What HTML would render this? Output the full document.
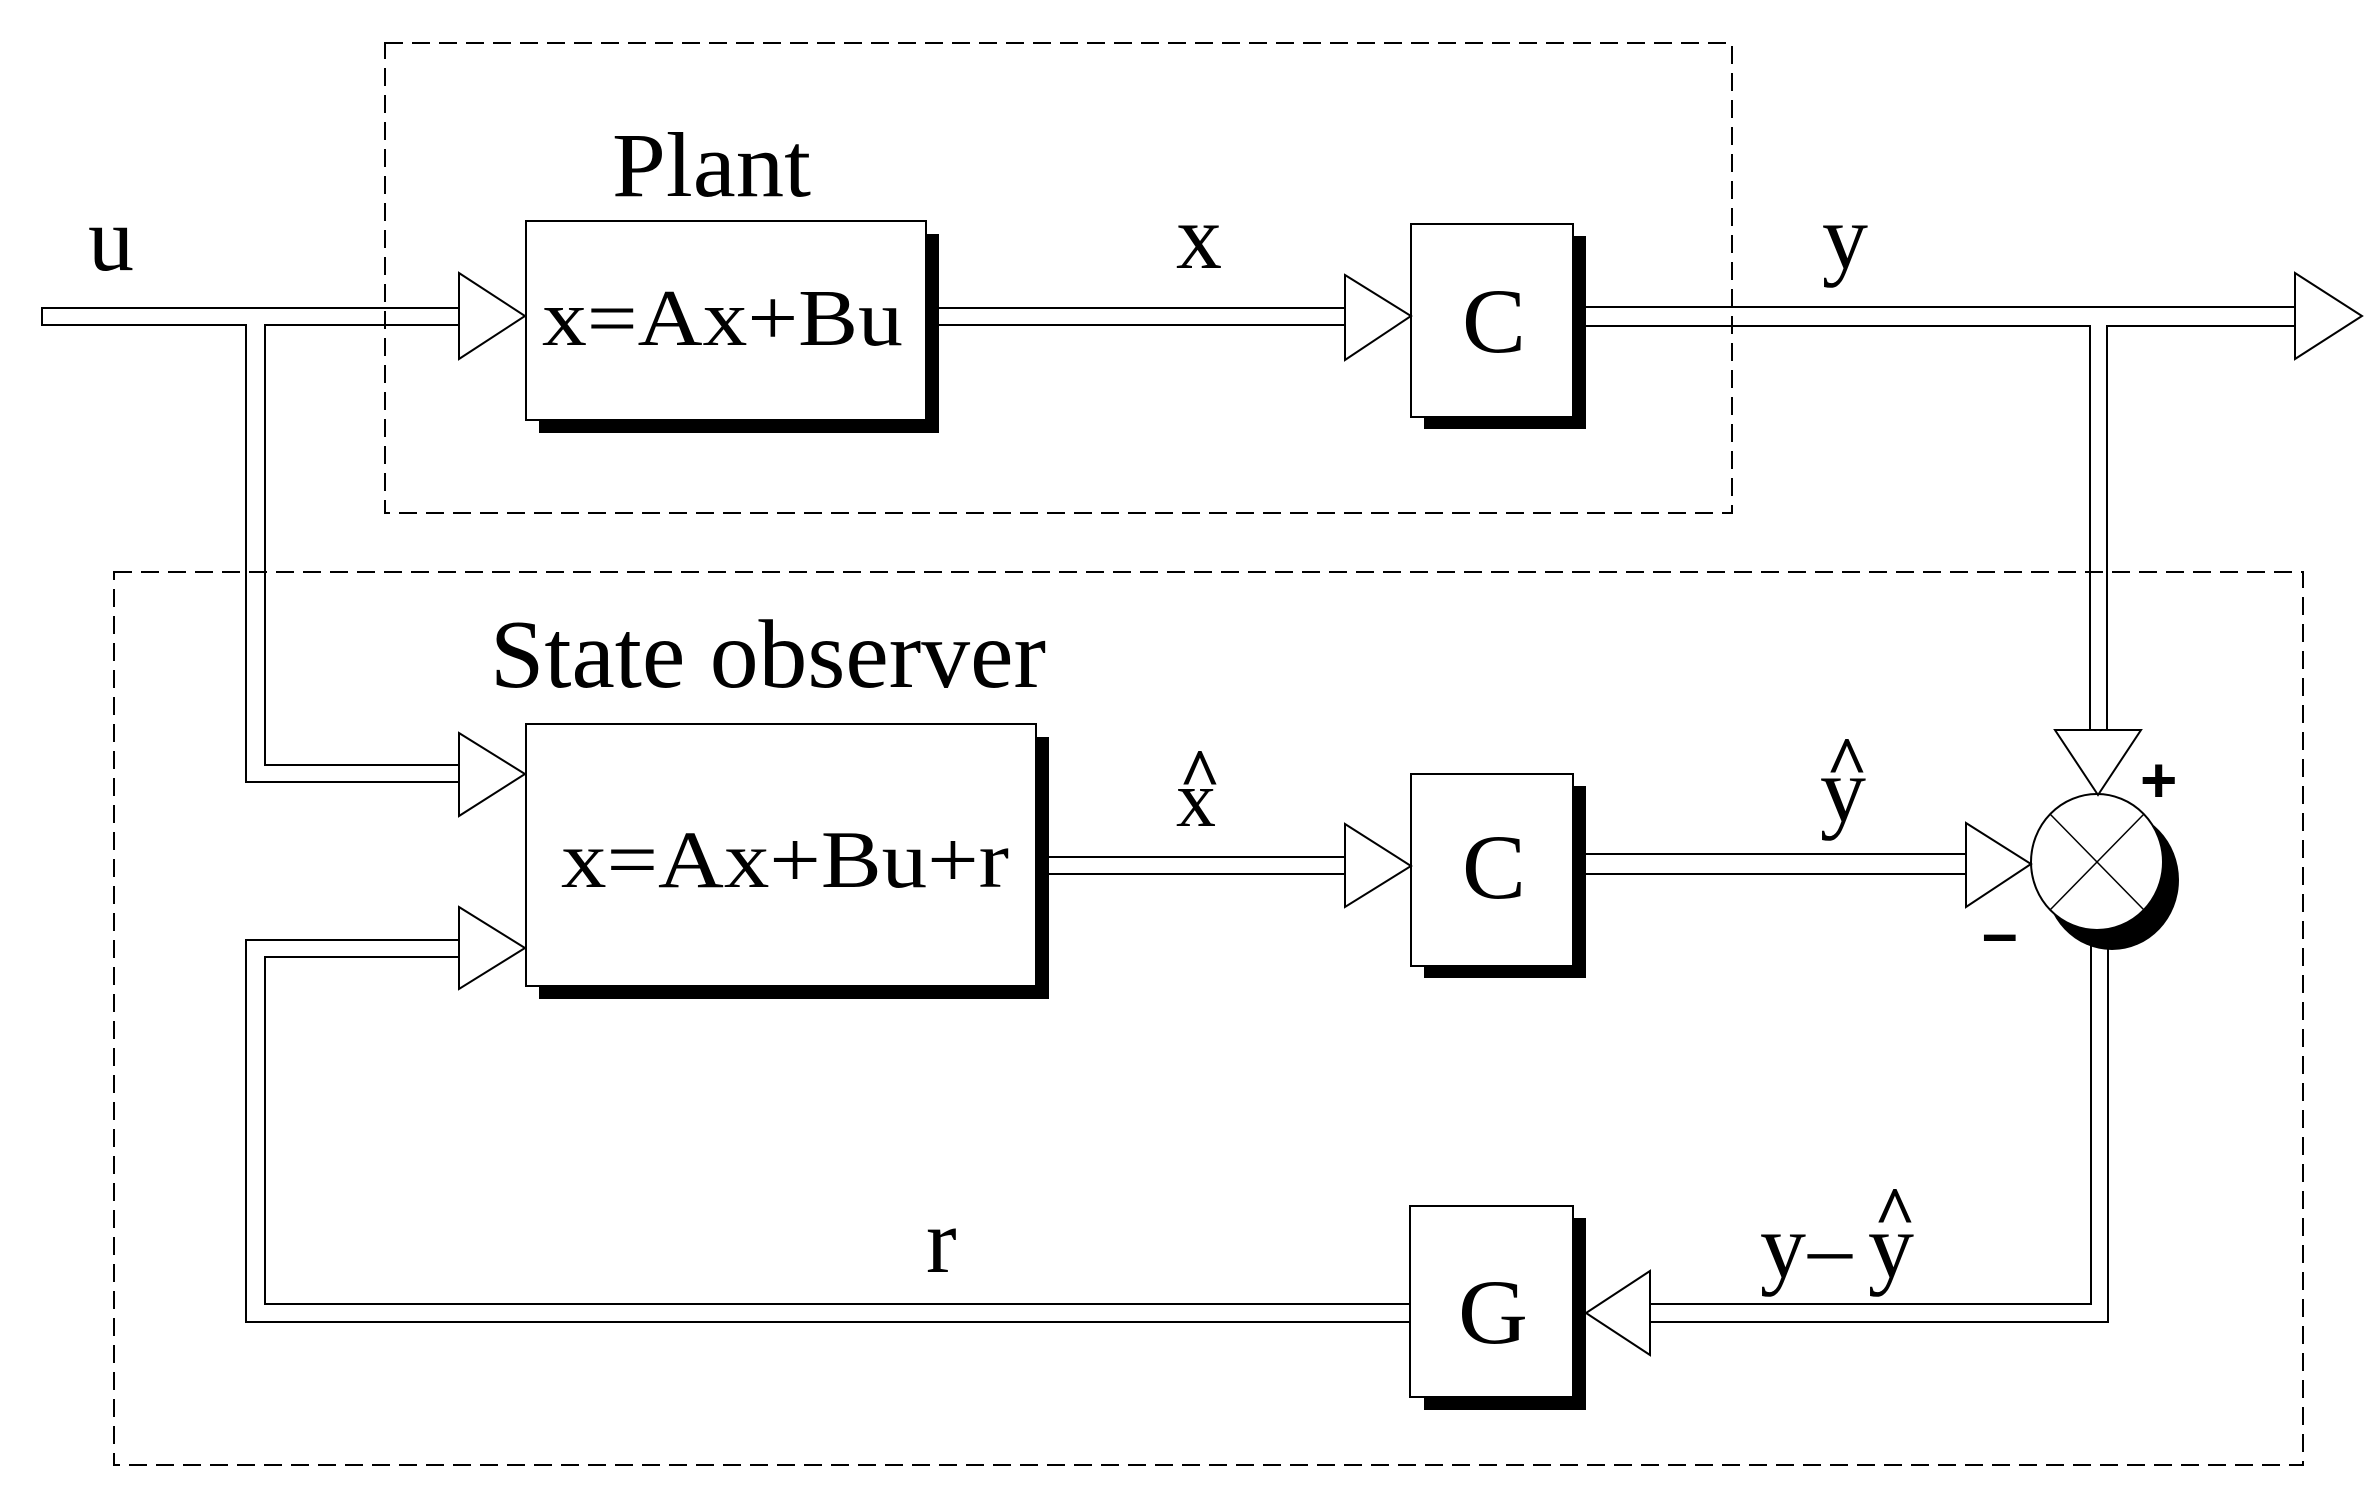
<!DOCTYPE html>
<html><head><style>html,body{margin:0;padding:0;background:#fff}svg{display:block}</style></head>
<body>
<svg width="2379" height="1501" viewBox="0 0 2379 1501" xmlns="http://www.w3.org/2000/svg" font-family="'Liberation Serif', serif">
<rect width="2379" height="1501" fill="#fff"/>
<g fill="none" stroke="#000" stroke-width="2" stroke-dasharray="18 9">
<rect x="385" y="43" width="1347" height="470"/>
<rect x="114" y="572" width="2189" height="893"/>
</g>
<g fill="none" stroke="#000" stroke-width="2">
<polyline points="462,308 42,308 42,325 246,325 246,782 462,782"/>
<polyline points="462,325 265,325 265,765 462,765"/>
<polyline points="462,940 246,940 246,1322 1412,1322"/>
<polyline points="462,957 265,957 265,1304 1412,1304"/>
<line x1="939" y1="308" x2="1345" y2="308"/><line x1="939" y1="325" x2="1345" y2="325"/>
<line x1="1586" y1="307" x2="2296" y2="307"/>
<polyline points="1586,326 2090,326 2090,732"/>
<polyline points="2296,326 2107,326 2107,732"/>
<line x1="1049" y1="857" x2="1345" y2="857"/><line x1="1049" y1="874" x2="1345" y2="874"/>
<line x1="1586" y1="854" x2="1967" y2="854"/><line x1="1586" y1="874" x2="1967" y2="874"/>
<polyline points="2091,928 2091,1304 1650,1304"/>
<polyline points="2108,940 2108,1322 1650,1322"/>
</g>
<g fill="#000">
<rect x="539" y="234" width="400" height="199"/>
<rect x="539" y="737" width="510" height="262"/>
<rect x="1424" y="236" width="162" height="193"/>
<rect x="1424" y="786" width="162" height="192"/>
<rect x="1424" y="1218" width="162" height="192"/>
<ellipse cx="2112" cy="880" rx="67" ry="70"/>
</g>
<g fill="#fff" stroke="#000" stroke-width="2">
<rect x="526" y="221" width="400" height="199"/>
<rect x="526" y="724" width="510" height="262"/>
<rect x="1411" y="224" width="162" height="193"/>
<rect x="1411" y="774" width="162" height="192"/>
<rect x="1410" y="1206" width="163" height="191"/>
<ellipse cx="2097" cy="862" rx="66" ry="68"/>
<polygon points="459,273 525,316 459,359"/>
<polygon points="459,733 525,774 459,816"/>
<polygon points="459,907 525,948 459,989"/>
<polygon points="1345,275 1411,316 1345,360"/>
<polygon points="1345,824 1411,866 1345,907"/>
<polygon points="1966,823 2031,864 1966,907"/>
<polygon points="2295,273 2362,316 2295,359"/>
<polygon points="2055,730 2141,730 2098,795"/>
<polygon points="1650,1271 1586,1313 1650,1355"/>
</g>
<g stroke="#000" stroke-width="1.5">
<line x1="2050" y1="814" x2="2144" y2="910"/>
<line x1="2144" y1="814" x2="2050" y2="910"/>
</g>
<g fill="#000" font-size="88">
<text x="612" y="196" font-size="92" textLength="199" lengthAdjust="spacingAndGlyphs">Plant</text>
<text x="88" y="270" font-size="92">u</text>
<text x="542" y="345" font-size="80" textLength="361" lengthAdjust="spacingAndGlyphs">x=Ax+Bu</text>
<text x="490" y="687" font-size="98" textLength="556" lengthAdjust="spacingAndGlyphs">State observer</text>
<text x="561" y="887" font-size="82" textLength="448" lengthAdjust="spacingAndGlyphs">x=Ax+Bu+r</text>
<text x="1176" y="268" font-size="92">x</text>
<text x="1822" y="268" font-size="92">y</text>
<text x="1462" y="352" font-size="92" textLength="64" lengthAdjust="spacingAndGlyphs">C</text>
<text x="1462" y="898" font-size="92" textLength="64" lengthAdjust="spacingAndGlyphs">C</text>
<text x="1458" y="1343" font-size="92" textLength="70" lengthAdjust="spacingAndGlyphs">G</text>
<text x="1176" y="826" font-size="80">x</text>
<text x="1179" y="798" font-size="72" font-weight="bold">^</text>
<text x="1820" y="821" font-size="92">y</text>
<text x="1826" y="786" font-size="72" font-weight="bold">^</text>
<text x="926" y="1272" font-size="92">r</text>
<text x="1760" y="1277" font-size="92">y</text>
<text x="1808" y="1277">–</text>
<text x="1868" y="1277" font-size="92">y</text>
<text x="1874" y="1236" font-size="72" font-weight="bold">^</text>
<text x="2140" y="802" font-size="64" font-family="'Liberation Sans', sans-serif" font-weight="bold">+</text>
<text x="1982" y="955" font-size="64" font-family="'Liberation Sans', sans-serif" font-weight="bold">–</text>
</g>
</svg>
</body></html>
